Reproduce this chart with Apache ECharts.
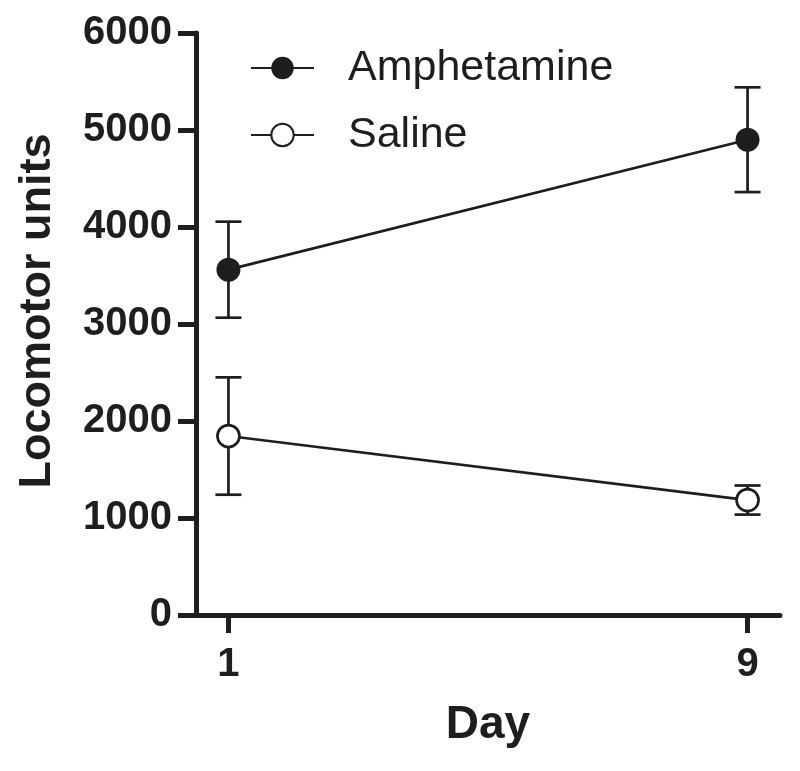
<!DOCTYPE html>
<html>
<head>
<meta charset="utf-8">
<script src="https://cdn.jsdelivr.net/npm/echarts@6/dist/echarts.min.js"></script>
<style>
html,body{margin:0;padding:0;background:#fff;}
#chart{width:800px;height:771px;}
</style>
</head>
<body>
<div id="chart"></div>
<script>
const days = [1, 9];
const amphMean = [3560, 4900];
const amphSem = [495, 540];
const salineMean = [1845, 1185];
const salineSem = [605, 150];
const yTicks = [0, 1000, 2000, 3000, 4000, 5000, 6000];

const INK = '#1e1e1e';
const FONT = "'Liberation Sans', Arial, Helvetica, sans-serif";

function pairs(xs, ys) { return xs.map((x, i) => [x, ys[i]]); }
function errData(xs, m, s) { return xs.map((x, i) => [x, m[i] - s[i], m[i] + s[i]]); }

function errRender(params, api) {
  const x = api.value(0);
  const lo = api.coord([x, api.value(1)]);
  const hi = api.coord([x, api.value(2)]);
  const hw = 13;
  const st = { stroke: INK, lineWidth: 2.7 };
  return {
    type: 'group',
    children: [
      { type: 'line', shape: { x1: lo[0], y1: lo[1], x2: hi[0], y2: hi[1] }, style: st },
      { type: 'line', shape: { x1: lo[0] - hw, y1: lo[1], x2: lo[0] + hw, y2: lo[1] }, style: st },
      { type: 'line', shape: { x1: hi[0] - hw, y1: hi[1], x2: hi[0] + hw, y2: hi[1] }, style: st }
    ]
  };
}

const chart = echarts.init(document.getElementById('chart'), null, { renderer: 'canvas' });
chart.setOption({
  animation: false,
  backgroundColor: '#fff',
  grid: { left: 196, right: 20, top: 33, bottom: 156, outerBoundsMode: 'none', containLabel: false },
  legend: {
    orient: 'vertical', left: 250, top: 45, padding: 0,
    itemWidth: 63, itemHeight: 28, itemGap: 21,
    data: ['Amphetamine', 'Saline'],
    textStyle: { fontFamily: FONT, fontSize: 43, color: INK, lineHeight: 46, padding: [0, 0, 0, 29] }
  },
  xAxis: {
    type: 'value', min: 0.5, max: 9.5,
    name: 'Day', nameLocation: 'middle', nameGap: 87,
    nameTextStyle: { fontFamily: FONT, fontSize: 46, fontWeight: 'bold', color: INK, lineHeight: 46 },
    axisLine: { show: true, lineStyle: { color: INK, width: 5 } },
    axisTick: { show: true, length: 18, lineStyle: { color: INK, width: 5 }, customValues: days },
    axisLabel: { fontFamily: FONT, fontSize: 40, fontWeight: 'bold', color: INK, margin: 30, customValues: days,
      formatter: v => String(v) },
    splitLine: { show: false }
  },
  yAxis: {
    type: 'value', min: 0, max: 6000, interval: 1000,
    name: 'Locomotor units', nameLocation: 'middle', nameGap: 136,
    nameTextStyle: { fontFamily: FONT, fontSize: 45, fontWeight: 'bold', color: INK, lineHeight: 45, padding: [0, 0, 0, 26] },
    axisLine: { show: true, lineStyle: { color: INK, width: 5 } },
    axisTick: { show: true, length: 18, lineStyle: { color: INK, width: 5 }, customValues: yTicks },
    axisLabel: { fontFamily: FONT, fontSize: 40, fontWeight: 'bold', color: INK, margin: 24, customValues: yTicks,
      formatter: v => String(v) },
    splitLine: { show: false }
  },
  series: [
    {
      type: 'custom', name: 'amphErr', renderItem: errRender, z: 1,
      data: errData(days, amphMean, amphSem), silent: true
    },
    {
      type: 'custom', name: 'salineErr', renderItem: errRender, z: 1,
      data: errData(days, salineMean, salineSem), silent: true
    },
    {
      type: 'line', name: 'Amphetamine', z: 3,
      data: pairs(days, amphMean),
      symbol: 'circle', symbolSize: 24,
      lineStyle: { color: INK, width: 2.7 },
      itemStyle: { color: INK, borderColor: INK, borderWidth: 0 }
    },
    {
      type: 'line', name: 'Saline', z: 3,
      data: pairs(days, salineMean),
      symbol: 'circle', symbolSize: 22,
      lineStyle: { color: INK, width: 2.7 },
      itemStyle: { color: '#ffffff', borderColor: INK, borderWidth: 2.7 }
    }
  ]
});
</script>
</body>
</html>
